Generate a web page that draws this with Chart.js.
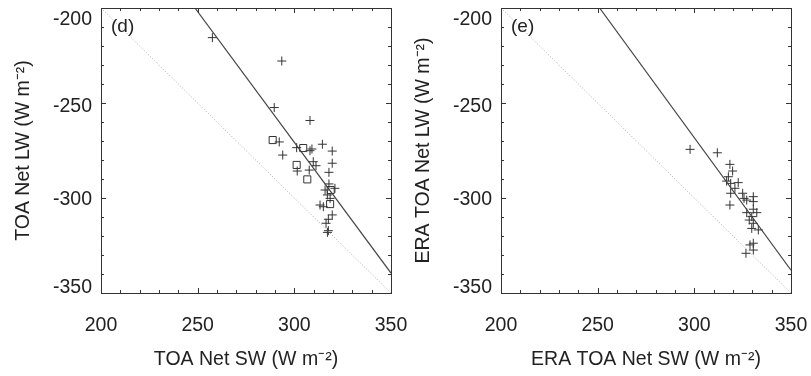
<!DOCTYPE html>
<html>
<head>
<meta charset="utf-8">
<script src="https://cdn.jsdelivr.net/npm/chart.js@4"></script>
<style>
  body { margin: 0; background: #fff; }
  #wrap { position: relative; width: 811px; height: 376px; }
  canvas { position: absolute; top: 0; left: 0; }
</style>
</head>
<body>
<div id="wrap">
  <canvas id="chartD" width="811" height="376"></canvas>
  <canvas id="chartE" width="811" height="376"></canvas>
</div>
<script>
// panel (d): model values, crosses and squares
var dPlusX = [257.6, 293.5, 289.6, 308.1, 292.2, 294.0, 301.2, 308.1, 309.1, 314.5, 319.6, 301.5, 309.8, 311.2, 307.7,
              319.6, 317.9, 317.9, 315.9, 321.0, 317.1, 318.5, 313.3, 315.0, 319.6, 317.6, 316.4, 317.6, 317.1]
var dPlusY = [-215.6, -227.9, -252.4, -259.2, -270.5, -277.4, -273.5, -275.1, -274.2, -271.7, -275.3, -285.8, -280.9, -283.0, -285.3,
              -281.7, -286.5, -292.6, -295.8, -294.9, -298.4, -300.2, -303.7, -304.6, -308.9, -311.2, -313.3, -317.2, -318.1]
var dSqX = [288.8, 304.6, 301.2, 306.7, 318.8, 318.5]
var dSqY = [-269.5, -273.7, -282.6, -290.2, -295.8, -303.2]

// panel (e): ERA values
var eX = [297.8, 311.9, 318.4, 319.8, 317.6, 316.7, 318.8, 322.7, 321.0, 318.8, 325.0, 325.7, 327.1, 330.5,
          330.5, 318.4, 327.1, 330.5, 332.3, 329.7, 328.4, 330.5, 329.7, 333.1, 330.5, 328.8, 330.5, 326.7]
var eY = [-274.4, -276.2, -282.3, -285.8, -288.8, -291.1, -292.3, -291.9, -294.9, -297.5, -297.5, -300.2, -301.1, -299.3,
          -301.9, -303.7, -307.7, -305.9, -307.7, -309.8, -311.6, -313.3, -316.0, -316.8, -323.8, -324.7, -327.4, -329.1]

// fitted lines (end points) and the 1:1 line
var dFitX = [248.6, 350]
var dFitY = [-200, -339.5]
var eFitX = [251, 350]
var eFitY = [-200, -338]
var oneX = [200, 350]
var oneY = [-200, -350]

var xTicks = [200, 250, 300, 350]
var yTicks = [-350, -300, -250, -200]
// how far each y label sits below its tick (px), as in the reference
var yLabelShift = [-5, 2, 4, 12]

var FONT = "'Liberation Sans', Arial, Helvetica, sans-serif"
var INK = '#222'

function pts(xs, ys) {
    var out = []
    for (var i = 0; i < xs.length; i++) out.push({ x: xs[i], y: ys[i] })
    return out
}

// box round the plot, with ticks pointing inward on all four sides, plus panel letter
var framePlugin = {
    id: 'frame',
    afterDraw: function (chart, args, opts) {
        var ctx = chart.ctx
        var a = chart.chartArea
        var xs = chart.scales.x, ys = chart.scales.y
        ctx.save()
        ctx.strokeStyle = '#333'
        ctx.lineWidth = 1
        ctx.strokeRect(a.left + 0.5, a.top + 0.5, a.right - a.left, a.bottom - a.top)
        ctx.beginPath()
        for (var v = 200; v <= 350; v += 10) {
            var px = Math.round(xs.getPixelForValue(v)) + 0.5
            var len = (v % 50 === 0) ? 5 : 3
            ctx.moveTo(px, a.bottom); ctx.lineTo(px, a.bottom - len)
            ctx.moveTo(px, a.top); ctx.lineTo(px, a.top + len)
        }
        for (var w = -350; w <= -200; w += 10) {
            var py = Math.round(ys.getPixelForValue(w)) + 0.5
            var len2 = (w % 50 === 0) ? 5 : 3
            ctx.moveTo(a.left, py); ctx.lineTo(a.left + len2, py)
            ctx.moveTo(a.right, py); ctx.lineTo(a.right - len2, py)
        }
        ctx.stroke()
        ctx.fillStyle = INK
        ctx.font = '19px ' + FONT
        ctx.textBaseline = 'middle'
        ctx.fillText(opts.label, a.left + 10, a.top + 19)
        ctx.restore()
    }
}

function makeChart(id, xTitle, yTitle, letter, padLeft, padRight, yWidth, yTitlePad, datasets) {
    return new Chart(document.getElementById(id), {
        type: 'scatter',
        data: { datasets: datasets },
        options: {
            responsive: false,
            animation: false,
            layout: { padding: { left: padLeft, top: 8, right: padRight, bottom: 0 } },
            plugins: {
                legend: { display: false },
                tooltip: { enabled: false },
                frame: { label: letter }
            },
            scales: {
                x: {
                    type: 'linear', min: 200, max: 350,
                    afterBuildTicks: function (s) { s.ticks = xTicks.map(function (v) { return { value: v } }) },
                    afterFit: function (s) { s.height = 83; s.paddingLeft = 0; s.paddingRight = 0 },
                    grid: { display: false, drawTicks: false },
                    border: { display: false },
                    ticks: { color: INK, padding: 21, font: { family: FONT, size: 19.5 } },
                    title: {
                        display: true, text: xTitle, color: INK,
                        font: { family: FONT, size: 19.5 }, padding: { top: 0, bottom: 5 }
                    }
                },
                y: {
                    type: 'linear', min: -350, max: -200,
                    afterBuildTicks: function (s) { s.ticks = yTicks.map(function (v) { return { value: v } }) },
                    afterFit: function (s) { s.width = yWidth; s.paddingTop = 0; s.paddingBottom = 0 },
                    grid: { display: false, drawTicks: false },
                    border: { display: false },
                    ticks: {
                        color: INK, padding: 9,
                        // a blank line before or after the label moves it off the tick by half a line
                        callback: function (value, i) {
                            var s = yLabelShift[i]
                            if (s > 0) return ['', String(value)]
                            if (s < 0) return [String(value), '']
                            return String(value)
                        },
                        font: function (c) {
                            var s = Math.abs(yLabelShift[c.index] || 0)
                            return { family: FONT, size: 19.5, lineHeight: (2 * s || 23) + 'px' }
                        }
                    },
                    title: {
                        display: true, text: yTitle, color: INK,
                        font: { family: FONT, size: 19.5 }, padding: { top: yTitlePad, bottom: 0 }
                    }
                }
            }
        },
        plugins: [framePlugin]
    })
}

function lineSet(xs, ys, color, dash, width) {
    return {
        type: 'line', data: pts(xs, ys), borderColor: color, borderWidth: width,
        borderDash: dash, pointRadius: 0, showLine: true, fill: false
    }
}

makeChart('chartD', 'TOA Net SW (W m\u207B\u00B2)', 'TOA Net LW (W m\u207B\u00B2)', '(d)', 0, 420, 101, 12, [
    lineSet(oneX, oneY, '#aaa', [1, 2], 1),
    lineSet(dFitX, dFitY, '#444', [], 1.2),
    { data: pts(dPlusX, dPlusY), pointStyle: 'cross', pointRadius: 4.5, borderColor: '#333', borderWidth: 1 },
    { data: pts(dSqX, dSqY), pointStyle: 'rect', pointRadius: 5, borderColor: '#333', backgroundColor: 'rgba(0,0,0,0)', borderWidth: 1 }
])

makeChart('chartE', 'ERA TOA Net SW (W m\u207B\u00B2)', 'ERA TOA Net LW (W m\u207B\u00B2)', '(e)', 405, 20, 96, 7, [
    lineSet(oneX, oneY, '#aaa', [1, 2], 1),
    lineSet(eFitX, eFitY, '#444', [], 1.2),
    { data: pts(eX, eY), pointStyle: 'cross', pointRadius: 4.5, borderColor: '#333', borderWidth: 1 }
])
</script>
</body>
</html>
